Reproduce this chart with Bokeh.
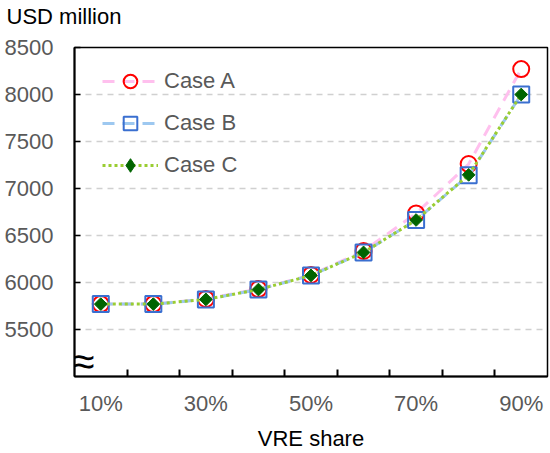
from bokeh.plotting import figure
from bokeh.models import FixedTicker, PrintfTickFormatter, Label, Legend, LegendItem, Title
from bokeh.embed import file_html
from bokeh.resources import INLINE
import numpy as np

# datos
vre_share = [10, 20, 30, 40, 50, 60, 70, 80, 90]
case_a = [5770, 5770, 5825, 5930, 6080, 6335, 6735, 7260, 8270]
case_b = [5770, 5770, 5820, 5925, 6075, 6320, 6665, 7140, 8000]
case_c = [5770, 5770, 5820, 5925, 6075, 6320, 6665, 7145, 8000]

y_ticks = [5500, 6000, 6500, 7000, 7500, 8000, 8500]
x_labels = [10, 30, 50, 70, 90]

FONT = "Liberation Sans"
GRIS = "#595959"

p = figure(width=550, height=453, x_range=(5, 95), y_range=(5000, 8500),
           output_backend="svg", toolbar_location=None,
           min_border_left=74, min_border_right=3, min_border_top=47, min_border_bottom=73)

# titulo del eje y, arriba a la izquierda
p.title.text = "USD million"
p.title.align = "left"
p.title.offset = -68
p.title.standoff = 0
p.title.text_font = FONT
p.title.text_font_size = "22px"
p.title.text_font_style = "normal"
p.title.text_color = "black"

# titulo vacio que solo separa el texto de arriba del area del grafico
separador = Title(text=" ", text_font_size="1px", standoff=16)
p.add_layout(separador, "above")

p.outline_line_color = "black"
p.outline_line_width = 1.5
p.xgrid.visible = False
p.ygrid.grid_line_color = "#d0d0d0"
p.ygrid.grid_line_dash = "6 5"
p.ygrid.grid_line_width = 1.5

# eje x
p.xaxis.ticker = FixedTicker(ticks=x_labels, minor_ticks=[15, 25, 35, 45, 55, 65, 75, 85])
p.xaxis.formatter = PrintfTickFormatter(format="%d%%")
p.xaxis.major_tick_in = 0
p.xaxis.major_tick_out = 0
p.xaxis.minor_tick_in = 7
p.xaxis.minor_tick_out = 0
p.xaxis.minor_tick_line_color = "black"
p.xaxis.minor_tick_line_width = 2
p.xaxis.axis_label = "VRE share"
p.xaxis.axis_label_text_font = FONT
p.xaxis.axis_label_text_font_size = "22px"
p.xaxis.axis_label_text_font_style = "normal"
p.xaxis.axis_label_text_color = "black"
p.xaxis.axis_label_standoff = 7
p.xaxis.major_label_standoff = 14

# eje y
p.yaxis.ticker = FixedTicker(ticks=y_ticks)
p.yaxis.major_tick_in = 6
p.yaxis.major_tick_out = 0
p.yaxis.minor_tick_in = 0
p.yaxis.minor_tick_out = 0
p.yaxis.major_label_standoff = 21

for ax in [p.xaxis, p.yaxis]:
    ax.axis_line_color = "black"
    ax.axis_line_width = 2
    ax.major_tick_line_color = "black"
    ax.major_tick_line_width = 1.5
    ax.major_label_text_font = FONT
    ax.major_label_text_font_size = "22px"
    ax.major_label_text_color = GRIS

# series
la = p.line(vre_share, case_a, line_color="#ffc0ee", line_width=3, line_dash="12 8")
ma = p.scatter(vre_share, case_a, marker="circle", size=16, line_color="#ff0000",
               line_width=2, fill_alpha=0)
lb = p.line(vre_share, case_b, line_color="#9dc8f0", line_width=3, line_dash="12 8")
mb = p.scatter(vre_share, case_b, marker="square", size=16, line_color="#3a6fd0",
               line_width=2, fill_alpha=0)
lc = p.line(vre_share, case_c, line_color="#9acd32", line_width=3, line_dash="3 3")
mc = p.scatter(vre_share, case_c, marker="square", angle=np.pi / 4, size=9,
               line_color="#006400", fill_color="#006400")
# rombo solo para la leyenda (el cuadrado girado no se gira en la leyenda)
mc_ley = p.scatter(vre_share, case_c, marker="diamond", size=14,
                   line_color="#006400", fill_color="#006400", visible=False)

legend = Legend(items=[LegendItem(label="Case A", renderers=[la, ma]),
                       LegendItem(label="Case B", renderers=[lb, mb]),
                       LegendItem(label="Case C", renderers=[lc, mc_ley])],
                location=(28, 194))
legend.background_fill_alpha = 0
legend.border_line_alpha = 0
legend.padding = 0
legend.margin = 0
legend.glyph_width = 56
legend.glyph_height = 34
legend.label_height = 34
legend.spacing = 8
legend.label_standoff = 6
legend.label_text_font = FONT
legend.label_text_font_size = "22px"
legend.label_text_color = GRIS
p.add_layout(legend)

# simbolo de corte del eje (dentro del area del grafico)
corte = Label(x=5, y=5170, x_offset=-2, text="\u2248", text_align="left", text_baseline="middle",
              text_font=FONT, text_font_size="40px", text_color="black")
p.add_layout(corte)

open("out.html", "w").write(file_html(p, INLINE))
